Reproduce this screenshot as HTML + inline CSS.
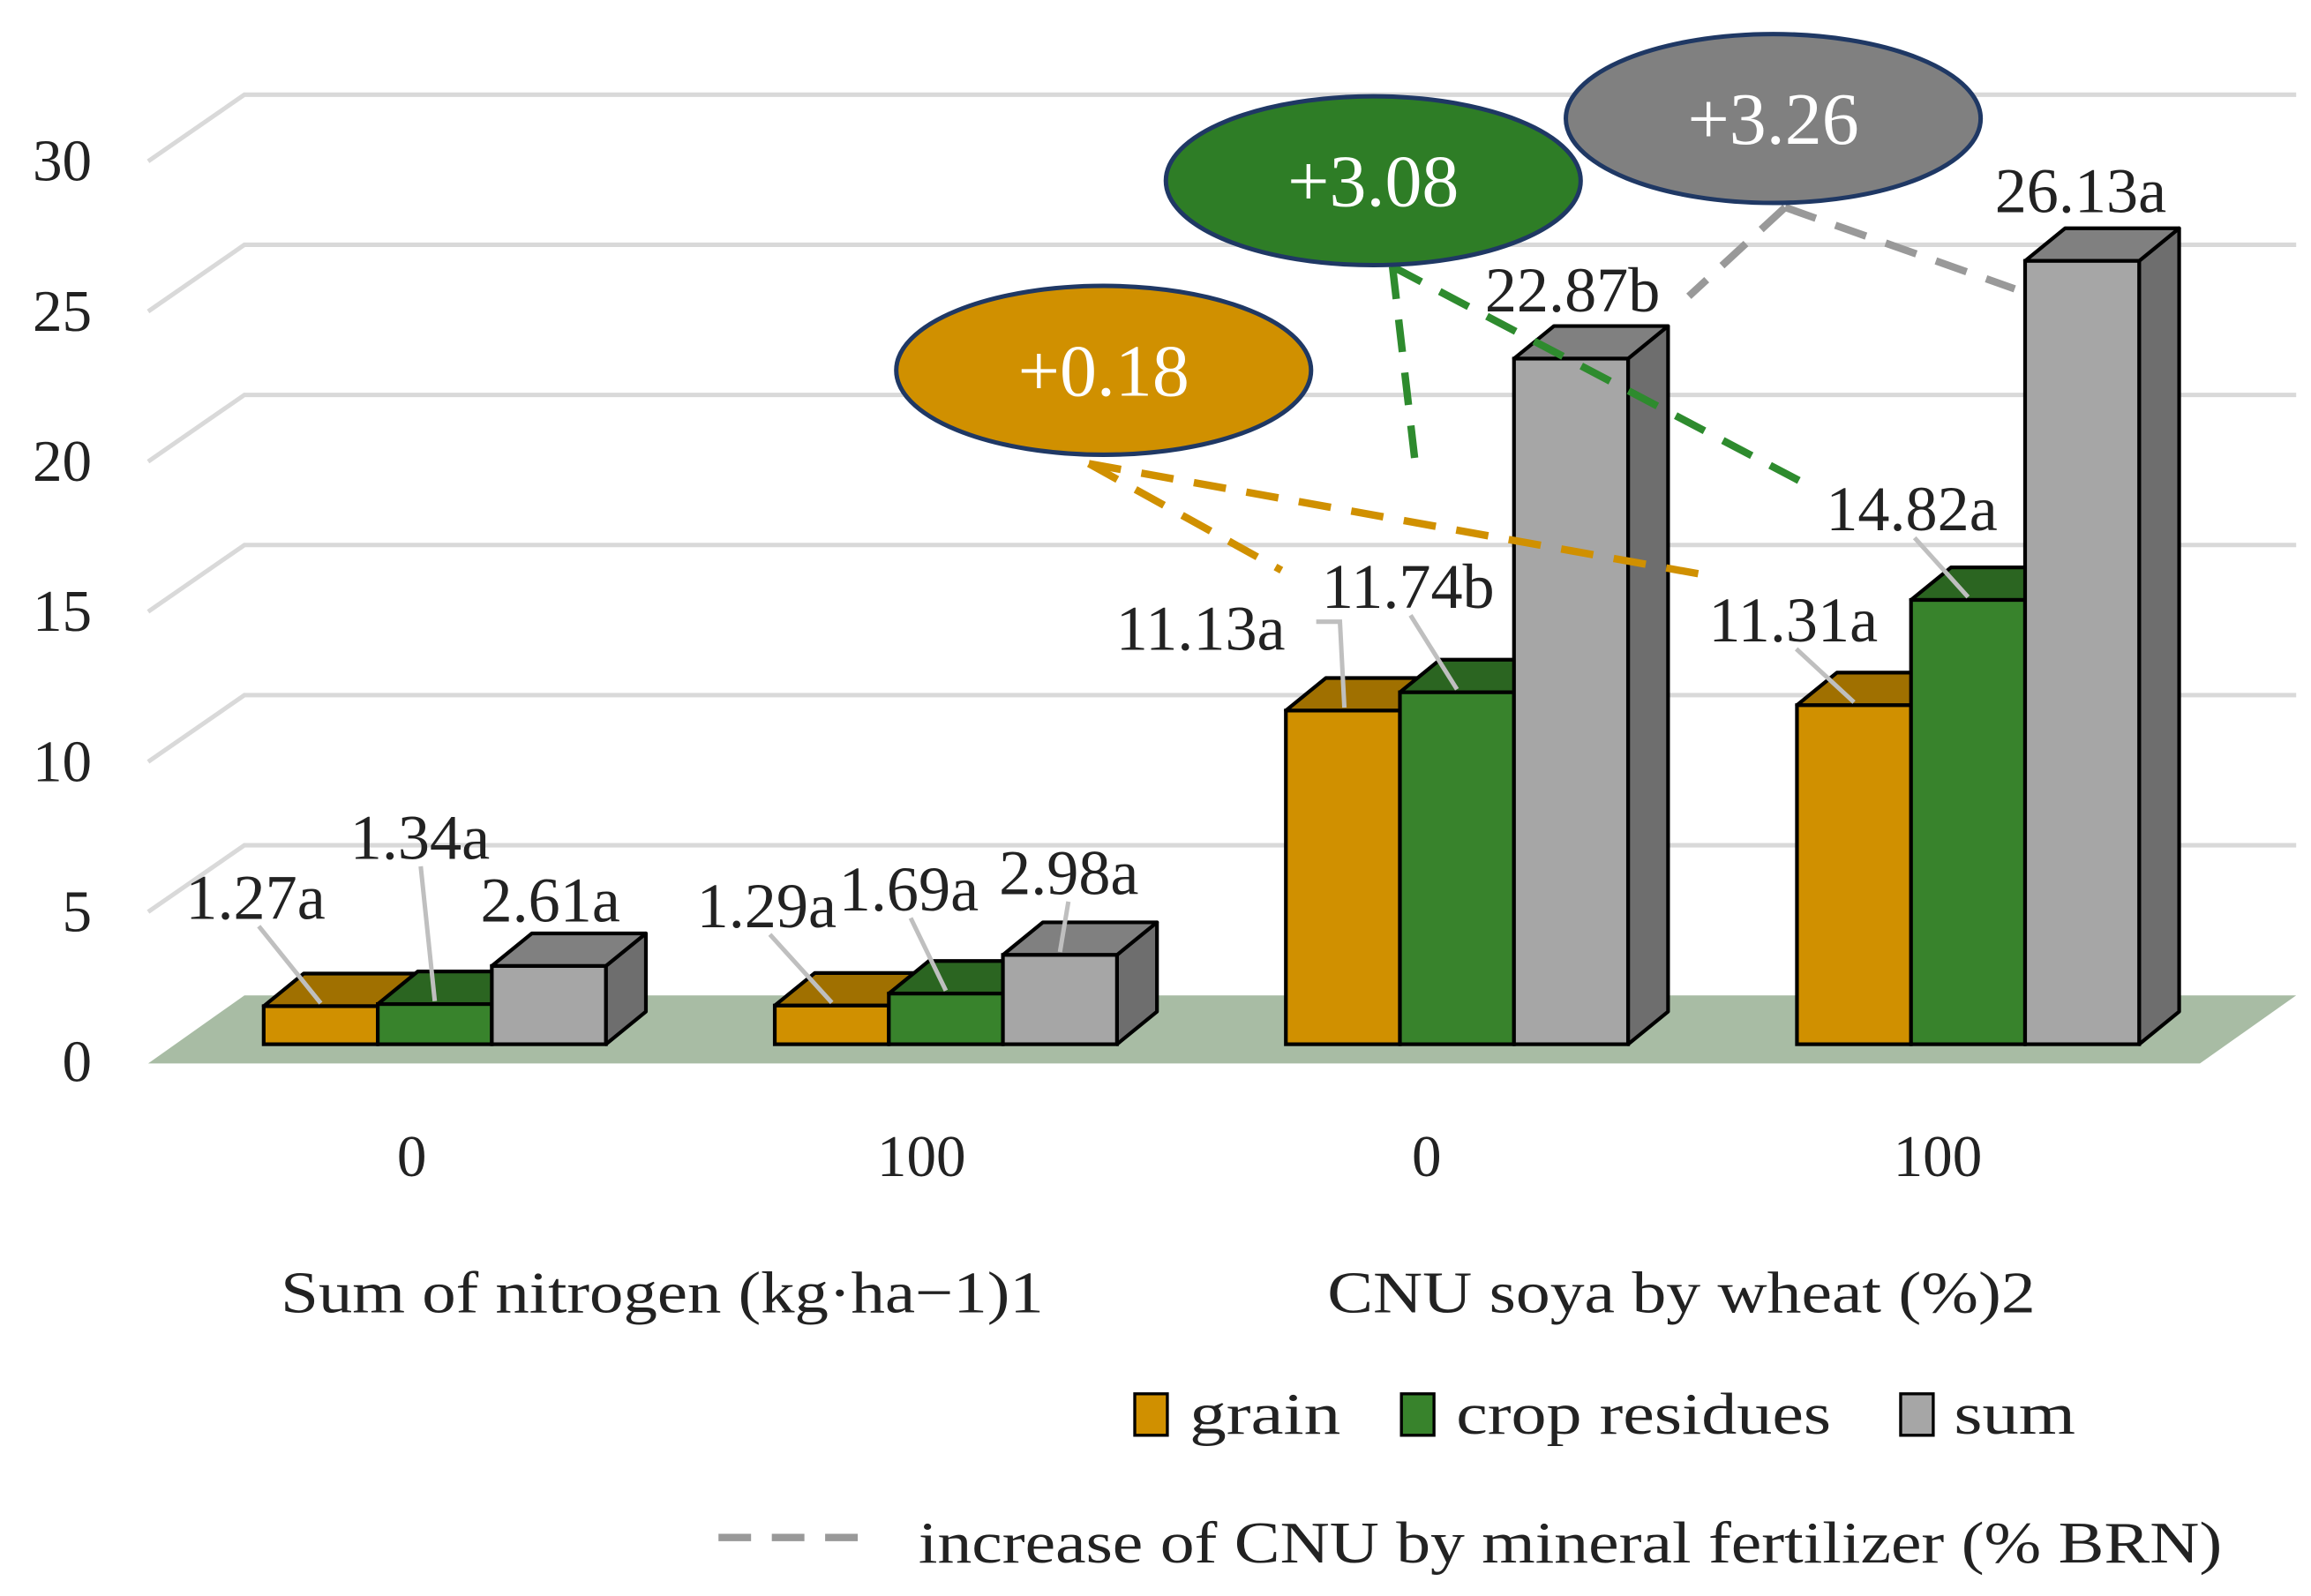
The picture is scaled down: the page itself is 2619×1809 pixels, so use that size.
<!DOCTYPE html>
<html><head><meta charset="utf-8"><style>
html,body{margin:0;padding:0;background:#fff;}
svg{display:block;font-family:"Liberation Serif",serif;}
</style></head><body>
<svg id="chart" width="2619" height="1809" viewBox="0 0 1560 1077.5" xmlns="http://www.w3.org/2000/svg">
<g id="grid"></g>
<g id="bars"></g>
<g id="labels"></g>
<g id="annot"></g>
<g font-size="40" fill="#222" text-anchor="middle">
<text x="278" y="794">0</text>
<text x="622" y="794">100</text>
<text x="963" y="794">0</text>
<text x="1308" y="794">100</text>
<text x="447" y="886" textLength="515" lengthAdjust="spacingAndGlyphs">Sum of nitrogen (kg·ha−1)1</text>
<text x="1135" y="886" textLength="478" lengthAdjust="spacingAndGlyphs">CNU soya by wheat (%)2</text>
</g>
<g font-size="40" fill="#222">
<rect x="766" y="941" width="22" height="28" fill="#D09000" stroke="#000" stroke-width="2"/>
<text x="803" y="968" textLength="102" lengthAdjust="spacingAndGlyphs">grain</text>
<rect x="946" y="941" width="22" height="28" fill="#38832C" stroke="#000" stroke-width="2"/>
<text x="983" y="968" textLength="253" lengthAdjust="spacingAndGlyphs">crop residues</text>
<rect x="1283" y="941" width="22" height="28" fill="#A6A6A6" stroke="#000" stroke-width="2"/>
<text x="1319" y="968" textLength="82" lengthAdjust="spacingAndGlyphs">sum</text>
<line x1="485" y1="1038" x2="592" y2="1038" stroke="#999" stroke-width="5" stroke-dasharray="22,14"/>
<text x="620" y="1055" textLength="880" lengthAdjust="spacingAndGlyphs">increase of CNU by mineral fertilizer (% BRN)</text>
</g>
</svg>
<script>
const categories = ['0','100','0','100'];
const grain = [1.27, 1.29, 11.13, 11.31];
const residues = [1.34, 1.69, 11.74, 14.82];
const total = [2.61, 2.98, 22.87, 26.13];
const grainLabels = ['1.27a','1.29a','11.13a','11.31a'];
const residueLabels = ['1.34a','1.69a','11.74b','14.82a'];
const totalLabels = ['2.61a','2.98a','22.87b','26.13a'];
const yTicks = [0,5,10,15,20,25,30];
const increases = ['+0.18','+3.08','+3.26'];

const NS='http://www.w3.org/2000/svg';
function mk(tag, attrs, parent){const e=document.createElementNS(NS,tag);for(const k in attrs)e.setAttribute(k,attrs[k]);parent.appendChild(e);return e;}
const yBack = v => 672 - v*20.27;
const yFront = v => 705 - v*20.24;
const groupX = i => 178 + i*345;
const BW = 77, DX = 27, DY = -22;

const grid = document.getElementById('grid');
const floor = mk('polygon',{points:'100,718 1485,718 1550,672 165,672',fill:'#A8BCA4'},grid);


yTicks.forEach(t=>{
  if(t>0){
    const yb=yBack(t);
    const l=mk('polyline',{points:`100,${yb+45} 165,${yb} 1550,${yb}`,fill:'none',stroke:'#D9D9D9','stroke-width':3},grid);
    
    
  }
  const tx=mk('text',{x:62,y:yBack(t)+58,'font-size':40,fill:'#222','text-anchor':'end'},grid);
  
  
  tx.textContent=t;
});

const bars=document.getElementById('bars');
const series=[{v:grain,f:'#D09000',t:'#A07000',s:'#8A6000',n:'grain'},{v:residues,f:'#38832C',t:'#2B6521',s:'#245A1C',n:'residues'},{v:total,f:'#A6A6A6',t:'#808080',s:'#6E6E6E',n:'sum'}];
categories.forEach((c,i)=>{
  series.forEach((s,j)=>{
    const x=groupX(i)+j*BW, y=yFront(s.v[i]), b=705;
    const g=mk('g',{},bars);
    
    
    mk('polygon',{points:`${x+BW},${b} ${x+BW+DX},${b+DY} ${x+BW+DX},${y+DY} ${x+BW},${y}`,fill:s.s,stroke:'#000','stroke-width':2.5,'stroke-linejoin':'round'},g);
    mk('polygon',{points:`${x},${y} ${x+DX},${y+DY} ${x+BW+DX},${y+DY} ${x+BW},${y}`,fill:s.t,stroke:'#000','stroke-width':2.5,'stroke-linejoin':'round'},g);
    mk('rect',{x:x,y:y,width:BW,height:b-y,fill:s.f,stroke:'#000','stroke-width':2.5},g);
  });
});

const offX=[[-44,-10,1],[-44,-25,6],[-96,-33,1],[-41,-38,-1]];
const offY=[[-74,-113,-45],[-68,-71,-56],[-56,-72,-47],[-58,-62,-48]];
const leader=[[1,1,0],[1,1,1],[2,1,0],[1,1,0]];
const labs=document.getElementById('labels');
const labelSets=[grainLabels,residueLabels,totalLabels];
categories.forEach((c,i)=>{
  series.forEach((s,j)=>{
    const cx=groupX(i)+j*BW+BW/2, top=yFront(s.v[i]);
    const lx=cx+offX[i][j], ly=top+offY[i][j];
    const lt=leader[i][j];
    if(lt===1){
      const l=mk('line',{x1:lx+(cx-lx)*0.05,y1:ly+20,x2:cx,y2:top-2,stroke:'#BFBFBF','stroke-width':3},labs);
      
      
    } else if(lt===2){
      const l=mk('polyline',{points:`${lx+78},${ly-4} ${cx-2},${ly-4} ${cx+1},${top-2}`,fill:'none',stroke:'#BFBFBF','stroke-width':3},labs);
      
      
    }
    const t=mk('text',{x:lx,y:ly+15,'font-size':43,fill:'#222','text-anchor':'middle'},labs);
    
    
    t.textContent=labelSets[j][i];
  });
});

const an=document.getElementById('annot');
const dashes=[
  {c:'#D09000',p:[[735,313,865,385],[735,313,1150,388]]},
  {c:'#2E8B2E',p:[[940,180,955,310],[940,180,1225,330]]},
  {c:'#999999',p:[[1205,140,1140,200],[1205,140,1360,195]]}];
dashes.forEach(d=>d.p.forEach(q=>{
  const l=mk('line',{x1:q[0],y1:q[1],x2:q[2],y2:q[3],stroke:d.c,'stroke-width':5,'stroke-dasharray':'22,14'},an);
  
  
}));
const ell=[{x:745,y:250,f:'#D09000'},{x:927,y:122,f:'#2E7D26'},{x:1197,y:80,f:'#808080'}];
ell.forEach((e,i)=>{
  const g=mk('g',{},an);
  
  
  mk('ellipse',{cx:e.x,cy:e.y,rx:140,ry:57,fill:e.f,stroke:'#1F3864','stroke-width':3},g);
  const t=mk('text',{x:e.x,y:e.y+17,'font-size':50,fill:'#fff','text-anchor':'middle'},g);
  t.textContent=increases[i];
});
</script>
</body></html>
